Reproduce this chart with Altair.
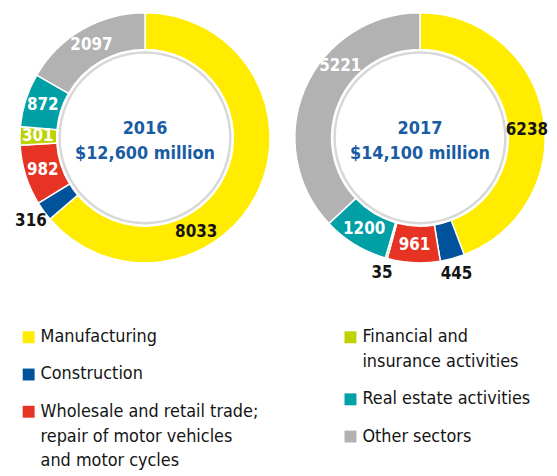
import math
import altair as alt
import pandas as pd

# ---- data ----
sector_keys = ["Manufacturing", "Construction", "Wholesale", "Financial", "Real estate", "Other"]
values_2016 = [8033, 316, 982, 301, 872, 2097]
values_2017 = [6238, 445, 961, 35, 1200, 5221]
label_side_2016 = ["in", "out", "in", "in", "in", "in"]
label_side_2017 = ["in", "out", "in", "out", "in", "in"]
years = ["2016", "2017"]
totals = ["$12,600 million", "$14,100 million"]
legend_lines = [
    ["Manufacturing"],
    ["Construction"],
    ["Wholesale and retail trade;", "repair of motor vehicles", "and motor cycles"],
    ["Financial and", "insurance activities"],
    ["Real estate activities"],
    ["Other sectors"],
]
legend_column = [0, 0, 0, 1, 1, 1]

# ---- styles ----
colors = ["#FFEC00", "#00529B", "#E63323", "#BFD200", "#00A0A6", "#B2B2B2"]
dark_label_sectors = ["Manufacturing"]
# where along its slice each value label sits (0 = slice start, 1 = slice end); default middle
label_anchor = {("2016", "Manufacturing"): 0.66, ("2017", "Manufacturing"): 0.54, ("2017", "Other"): 0.64}
FONT = "Liberation Sans Narrow, DejaVu Sans Condensed, Roboto, sans-serif"
BLUE = "#1A5CA3"
INK = "#141414"
color_scale = alt.Scale(domain=sector_keys, range=colors)


def donut(values, sides, year, total, width, height):
    df = pd.DataFrame({
        "sector": sector_keys,
        "value": values,
        "order": list(range(len(values))),
        "side": sides,
    })
    df["label_color"] = [
        INK if (s in dark_label_sectors or side == "out") else "white"
        for s, side in zip(df["sector"], df["side"])
    ]
    df["anchor"] = [label_anchor.get((year, s), 0.5) for s in df["sector"]]
    theta_scale = alt.Scale(domain=[0, float(sum(values))], range=[0, 2 * math.pi])
    ring = alt.Chart(df).mark_arc(innerRadius=89, outerRadius=126, stroke="white", strokeWidth=1.5).encode(
        theta=alt.Theta("value:Q", stack=True, scale=theta_scale),
        order=alt.Order("order:Q"),
        color=alt.Color("sector:N", scale=color_scale, legend=None),
    )

    def labels(side, radius):
        return (
            alt.Chart(df)
            .transform_window(cum="sum(value)", sort=[alt.SortField("order")], frame=[None, 0])
            .transform_calculate(mid="datum.cum - datum.value * (1 - datum.anchor)")
            .transform_filter(alt.datum.side == side)
            .mark_text(radius=radius, font=FONT, fontSize=17, fontWeight="bold")
            .encode(
                theta=alt.Theta("mid:Q", scale=theta_scale),
                text=alt.Text("value:Q"),
                color=alt.Color("label_color:N", scale=None),
            )
        )

    cdf = pd.DataFrame({"year": [year], "total": [total]})
    shadow = alt.Chart(cdf).mark_arc(
        radius=86, radius2=0, theta=0, theta2=2 * math.pi,
        stroke="#d8d8d8", strokeWidth=2.5,
    ).encode(fill=alt.value("white"))
    yr = alt.Chart(cdf).mark_text(font=FONT, fontSize=18, fontWeight="bold", color=BLUE, dy=-9).encode(
        text="year:N"
    )
    tt = alt.Chart(cdf).mark_text(font=FONT, fontSize=18, fontWeight="bold", color=BLUE, dy=16).encode(
        text="total:N"
    )
    return alt.layer(ring, shadow, labels("in", 108), labels("out", 142), yr, tt).properties(
        width=width, height=height
    )


d16 = donut(values_2016, label_side_2016, years[0], totals[0], 276, 258)
d17 = donut(values_2017, label_side_2017, years[1], totals[1], 252, 258)

# ---- custom legend ----
GAP_UNITS = 1.5
rows = []
cursor = {0: 0.0, 1: 0.0}
for key, lines, col in zip(sector_keys, legend_lines, legend_column):
    y = cursor[col]
    for i, line in enumerate(lines):
        rows.append({"sector": key, "col": col, "slot": y + i, "text": line, "first": i == 0})
    cursor[col] = y + len(lines) - 1 + GAP_UNITS
leg = pd.DataFrame(rows)

xs = alt.X("col:Q", scale=alt.Scale(domain=[0, 1], range=[20.8, 345]), axis=None)
ys = alt.Y("slot:Q", scale=alt.Scale(domain=[0, 5], range=[55, 180]), axis=None)
legend_base = alt.Chart(leg).encode(x=xs, y=ys)
squares = legend_base.transform_filter(alt.datum.first).mark_square(size=144, opacity=1).encode(
    color=alt.Color("sector:N", scale=color_scale, legend=None)
)
texts = legend_base.mark_text(align="left", dx=12, font=FONT, fontSize=18, color=INK).encode(
    text="text:N"
)
legend = alt.layer(squares, texts).properties(width=541, height=192)

chart = alt.vconcat(
    alt.hconcat(d16, d17, spacing=13, bounds="flush"),
    legend,
    spacing=0,
).properties(padding=0).configure_view(stroke=None)

chart.save("out.html", embed_options={"renderer": "svg", "actions": False})
